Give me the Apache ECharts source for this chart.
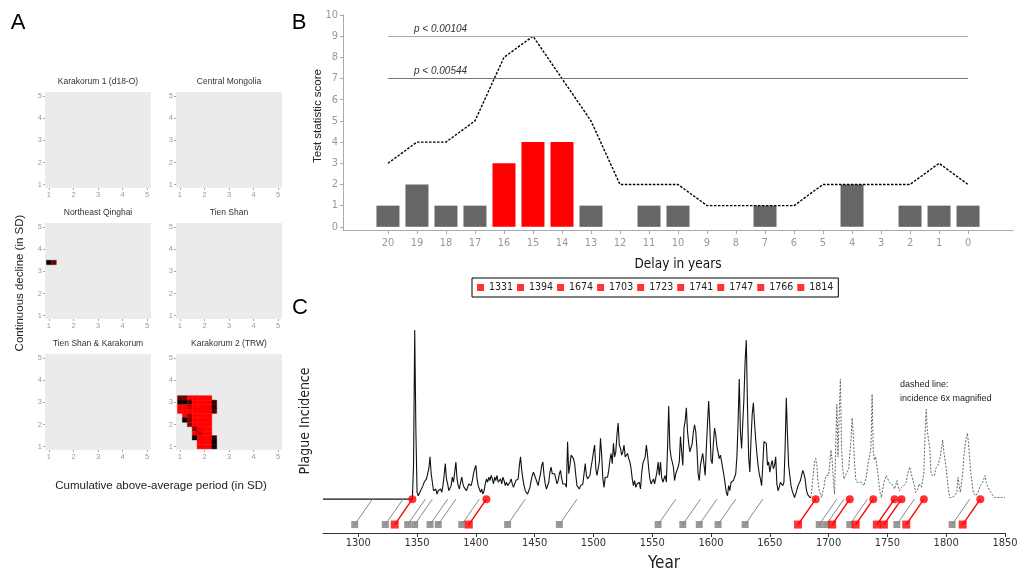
<!DOCTYPE html>
<html><head><meta charset="utf-8">
<script src="https://cdn.jsdelivr.net/npm/echarts@6/dist/echarts.min.js"></script>
<style>html,body{margin:0;padding:0;background:#fff}#c{width:1024px;height:572px}</style>
</head><body><div id="c"></div>
<script>
// ---------- Panel A data ----------
const panelTitles = ['Karakorum 1 (d18-O)', 'Central Mongolia', 'Northeast Qinghai', 'Tien Shan', 'Tien Shan & Karakorum', 'Karakorum 2 (TRW)'];
const axisTicksA = [1, 2, 3, 4, 5];
// [cumulative above-average (SD), continuous decline (SD), shade 0=black..1=red]
const qinghaiCells = [[1.0, 3.4, 0.0], [1.2, 3.4, 0.45]];
const karakorum2Cells = [
  [1.0,3.2,0.5],[1.2,3.2,0.5],[1.4,3.2,1],[1.6,3.2,1],[1.8,3.2,1],[2.0,3.2,1],[2.2,3.2,1],
  [1.0,3.0,0.05],[1.2,3.0,0.05],[1.4,3.0,0.4],[1.6,3.0,1],[1.8,3.0,1],[2.0,3.0,1],[2.2,3.0,1],[2.4,3.0,0.3],
  [1.0,2.8,1],[1.2,2.8,1],[1.4,2.8,0.8],[1.6,2.8,1],[1.8,2.8,1],[2.0,2.8,1],[2.2,2.8,1],[2.4,2.8,0.2],
  [1.0,2.6,1],[1.2,2.6,1],[1.4,2.6,1],[1.6,2.6,1],[1.8,2.6,1],[2.0,2.6,1],[2.2,2.6,1],[2.4,2.6,0.4],
  [1.2,2.4,1],[1.4,2.4,0.7],[1.6,2.4,1],[1.8,2.4,1],[2.0,2.4,1],[2.2,2.4,1],
  [1.2,2.2,0.0],[1.4,2.2,0.6],[1.6,2.2,1],[1.8,2.2,1],[2.0,2.2,1],[2.2,2.2,1],
  [1.4,2.0,0.6],[1.6,2.0,1],[1.8,2.0,1],[2.0,2.0,1],[2.2,2.0,1],
  [1.6,1.8,0.6],[1.8,1.8,1],[2.0,1.8,1],[2.2,1.8,1],
  [1.6,1.6,1],[1.8,1.6,0.8],[2.0,1.6,1],[2.2,1.6,1],
  [1.6,1.4,0.05],[1.8,1.4,1],[2.0,1.4,1],[2.2,1.4,1],[2.4,1.4,0.3],
  [1.8,1.2,1],[2.0,1.2,1],[2.2,1.2,1],[2.4,1.2,0.05],
  [1.8,1.0,1],[2.0,1.0,1],[2.2,1.0,1],[2.4,1.0,0.1]
];
const panelCells = [[], [], qinghaiCells, [], [], karakorum2Cells];
const CELL = 0.2;

// ---------- Panel B data ----------
const delays = [20,19,18,17,16,15,14,13,12,11,10,9,8,7,6,5,4,3,2,1,0];
const barScores = [1,2,1,1,3,4,4,1,0,1,1,0,0,1,0,0,2,0,1,1,1];
const lineScores = [3,4,4,5,8,9,7,5,2,2,2,1,1,1,1,2,2,2,2,3,2];
const significantDelays = [16,15,14];
const yTicksB = [0,1,2,3,4,5,6,7,8,9,10];
const thresholdValues = [9, 7];
const thresholdLabels = ['p < 0.00104', 'p < 0.00544'];

// ---------- Panel C data ----------
const yearTicks = [1300,1350,1400,1450,1500,1550,1600,1650,1700,1750,1800,1850];
const baselineStartYear = 1270;
const solidStartYear = 1346;
const solidValues = [
  0,20,100,40,4,2,3,5,4,8,        // 1346-1355
  10,9,12,15,18,25,15,16,5,4,     // 1356-1365
  6,3,5,4,6,4,8,14,21,12,         // 1366-1375
  9,5,4,8,13,10,16,22,12,8,       // 1376-1385
  6,10,13,9,7,8,5,6,9,10,         // 1386-1395
  8,11,15,18,20,12,8,7,4,6,       // 1396-1405
  3,5,9,12,10,13,11,14,12,9,      // 1406-1415
  13,11,14,10,9,12,9,13,11,8,     // 1416-1425
  10,8,7,10,12,9,7,9,11,10,       // 1426-1435
  12,20,25,17,12,8,5,4,3,4,       // 1436-1445
  7,11,14,16,14,12,10,8,12,15,    // 1446-1455
  20,22,14,9,6,5,10,16,19,15,     // 1456-1465
  16,15,12,9,11,15,17,12,9,10,    // 1466-1475
  9,7,34,15,20,26,25,24,21,14,    // 1476-1485
  8,7,6,8,7,9,15,21,14,12,        // 1486-1495
  11,14,19,23,28,32,18,14,15,22,  // 1496-1505
  36,26,12,7,13,14,13,17,23,27,   // 1506-1515
  21,33,25,28,38,45,32,30,26,28,  // 1516-1525
  32,25,24,27,24,22,18,12,8,11,   // 1526-1535
  7,9,8,10,6,15,21,22,25,32,      // 1536-1545
  26,18,12,9,10,12,9,10,16,22,    // 1546-1555
  14,22,13,10,9,14,10,30,55,30,   // 1556-1565
  25,26,19,11,15,17,19,22,37,28,  // 1566-1575
  20,42,46,54,40,33,28,29,33,40,  // 1576-1585
  44,40,30,15,11,20,24,27,26,14,  // 1586-1595
  30,45,58,42,23,21,33,42,38,31,  // 1596-1605
  30,24,26,22,18,14,9,4,2,8,      // 1606-1615
  5,10,9,11,12,15,25,45,71,40,    // 1616-1625
  30,45,60,82,94,55,25,16,35,50,  // 1626-1635
  57,45,35,27,20,15,12,8,20,34,   // 1636-1645
  33,33,20,22,16,20,23,18,20,25,  // 1646-1655
  9,5,7,10,11,8,10,30,60,38,      // 1656-1665
  20,14,8,5,3,1,3,4,8,9,          // 1666-1675
  11,14,17,15,12,6,3,2,1,1        // 1676-1685
];
const magnifiedStartYear = 1685;
const magnifiedValues = [
  1,8,15,22,24,20,10,5,4,1,       // 1685-1694
  4,7,12,14,15,14,15,29,23,12,    // 1695-1704
  3,30,56,25,50,71,30,18,12,11,   // 1705-1714
  15,16,18,19,35,48,38,22,12,10,  // 1715-1724
  9,10,9,10,9,8,9,13,18,23,       // 1725-1734
  26,31,62,28,23,25,20,15,8,3,    // 1735-1744
  1,6,10,12,14,13,11,10,9,9,      // 1745-1754
  8,6,8,11,8,5,6,7,7,8,           // 1755-1764
  9,10,14,17,19,16,13,13,8,4,     // 1765-1774
  3,6,9,8,7,6,15,38,53,40,        // 1775-1784
  35,31,16,14,14,14,18,19,20,21,  // 1785-1794
  25,30,35,28,23,18,11,5,1,1,     // 1795-1804
  1,1,2,3,4,13,8,4,3,15,          // 1805-1814
  25,31,36,39,33,23,15,10,4,3,    // 1815-1824
  2,2,4,6,8,9,10,12,14,10,        // 1825-1834
  8,7,5,4,3,2,1,1,1,1,            // 1835-1844
  1,1,1,1,1,1                     // 1845-1850
];
const greyEventYears = [1297,1323,1342,1348,1361,1368,1388,1427,1471,1555,1576,1590,1606,1629,1692,1698,1718,1758,1805];
const redEventYears = [1331,1394,1674,1703,1723,1741,1747,1766,1814];
const delayYears = 15;
const markerRow = -15;

// ---------- layout ----------
const FONT = 'Liberation Sans, Arial, sans-serif';
const VFONT = 'DejaVu Sans Condensed, DejaVu Sans, sans-serif';
const colLeft = [45, 176], rowTop = [92, 223, 354], gw = 106, gh = 96;
const grids = [], xAxes = [], yAxes = [], series = [], graphics = [];
const plain = v => String(v);

panelTitles.forEach((t, i) => {
  const left = colLeft[i % 2], top = rowTop[Math.floor(i / 2)];
  grids.push({left, top, width: gw, height: gh, show: true, backgroundColor: '#ebebeb', borderWidth: 0, outerBoundsMode: 'none', containLabel: false});
  xAxes.push({gridIndex: i, type: 'value', min: 0.84, max: 5.16,
    axisLine: {show: false, onZero: false}, splitLine: {show: false},
    axisTick: {show: true, customValues: axisTicksA, length: 2, lineStyle: {color: '#aaa'}},
    axisLabel: {customValues: axisTicksA, formatter: plain, color: '#9a9a9a', fontSize: 7.5, fontFamily: FONT, margin: 3}});
  yAxes.push({gridIndex: i, type: 'value', min: 0.85, max: 5.18,
    axisLine: {show: false, onZero: false}, splitLine: {show: false},
    axisTick: {show: true, customValues: axisTicksA, length: 2, lineStyle: {color: '#aaa'}},
    axisLabel: {customValues: axisTicksA, formatter: plain, color: '#9a9a9a', fontSize: 7.5, fontFamily: FONT, margin: 3}});
  series.push({type: 'custom', xAxisIndex: i, yAxisIndex: i, data: panelCells[i],
    renderItem: (params, api) => {
      const x = api.value(0), y = api.value(1);
      const a = api.coord([x - CELL / 2, y + CELL / 2]);
      const b = api.coord([x + CELL / 2, y - CELL / 2]);
      const c = api.visual('color');
      return {type: 'rect', shape: {x: a[0], y: a[1], width: b[0] - a[0], height: b[1] - a[1]},
        style: {fill: c, stroke: c, lineWidth: 0.4}};
    }});
  graphics.push({type: 'text', x: left + gw / 2, y: top - 10,
    style: {text: t, fontSize: 8.5, fontFamily: FONT, fill: '#333', align: 'center', verticalAlign: 'middle', textAlign: 'center', textVerticalAlign: 'middle'}});
});

// Panel B (grid 6)
grids.push({left: 343, right: 11, top: 15, bottom: 342, outerBoundsMode: 'none', containLabel: false});
xAxes.push({gridIndex: 6, type: 'value', inverse: true, min: -1.55, max: 21.55,
  axisLine: {onZero: false, lineStyle: {color: '#aaa'}}, splitLine: {show: false},
  axisTick: {customValues: delays, length: 4, lineStyle: {color: '#aaa'}},
  axisLabel: {customValues: delays, formatter: plain, color: '#999', fontSize: 11, fontFamily: VFONT, margin: 8},
  name: 'Delay in years', nameLocation: 'middle', nameGap: 27,
  nameTextStyle: {fontSize: 13.5, color: '#111', fontFamily: VFONT}});
yAxes.push({gridIndex: 6, type: 'value', min: -0.15, max: 10,
  axisLine: {show: true, onZero: false, lineStyle: {color: '#aaa'}}, splitLine: {show: false},
  axisTick: {show: true, customValues: yTicksB, length: 3, lineStyle: {color: '#aaa'}},
  axisLabel: {customValues: yTicksB, formatter: plain, color: '#999', fontSize: 11, fontFamily: VFONT, margin: 5}});
series.push({type: 'bar', xAxisIndex: 6, yAxisIndex: 6, barWidth: 23,
  data: delays.map((d, i) => [d, barScores[i]]),
  itemStyle: {color: p => significantDelays.includes(p.value[0]) ? '#ff0000' : '#666666'}});
series.push({type: 'line', xAxisIndex: 6, yAxisIndex: 6, symbol: 'none', z: 4,
  data: delays.map((d, i) => [d, lineScores[i]]),
  lineStyle: {color: '#000', width: 1.4, type: [2.5, 1.5]},
  markLine: {silent: true, symbol: 'none', animation: false,
    lineStyle: {type: 'solid', width: 1},
    label: {position: 'insideStartTop', distance: [26, 2], fontStyle: 'italic', fontSize: 10, color: '#333', fontFamily: FONT},
    data: thresholdValues.map((t, i) => [
      {coord: [delays[0], t], lineStyle: {color: i === 0 ? '#aaa' : '#777'}, label: {formatter: thresholdLabels[i]}},
      {coord: [delays[delays.length - 1], t]}])}});
redEventYears.forEach(y => series.push({name: String(y), type: 'scatter', xAxisIndex: 6, yAxisIndex: 6, data: [], itemStyle: {color: '#ff0000'}}));

// Panel C (grid 7)
grids.push({left: 323, right: 19, top: 330, bottom: 39, outerBoundsMode: 'none', containLabel: false});
xAxes.push({gridIndex: 7, type: 'value', min: 1270, max: 1850,
  axisLine: {onZero: false, lineStyle: {color: '#333'}}, splitLine: {show: false},
  axisTick: {customValues: yearTicks, length: 4, lineStyle: {color: '#333'}},
  axisLabel: {customValues: yearTicks, formatter: plain, color: '#333', fontSize: 11, fontFamily: VFONT, margin: 5},
  name: 'Year', nameLocation: 'middle', nameGap: 22,
  nameTextStyle: {fontSize: 17, color: '#222', fontFamily: VFONT}});
yAxes.push({gridIndex: 7, type: 'value', min: -20, max: 100,
  axisLine: {show: false, onZero: false}, axisTick: {show: false}, axisLabel: {show: false}, splitLine: {show: false}});
const solidData = [[baselineStartYear, 0]].concat(solidValues.map((v, i) => [solidStartYear + i, v]));
const magnifiedData = magnifiedValues.map((v, i) => [magnifiedStartYear + i, v]);
series.push({type: 'line', xAxisIndex: 7, yAxisIndex: 7, symbol: 'none', data: magnifiedData,
  lineStyle: {color: '#666', width: 1, type: [2, 1.5]}, z: 2});
series.push({type: 'line', xAxisIndex: 7, yAxisIndex: 7, symbol: 'none', data: solidData,
  lineStyle: {color: '#111', width: 1.1}, z: 3});
series.push({type: 'lines', coordinateSystem: 'cartesian2d', xAxisIndex: 7, yAxisIndex: 7, z: 4,
  data: greyEventYears.map(y => ({coords: [[y, markerRow], [y + delayYears, 0]]})),
  lineStyle: {color: '#8a8a8a', width: 1, opacity: 1}});
series.push({type: 'lines', coordinateSystem: 'cartesian2d', xAxisIndex: 7, yAxisIndex: 7, z: 5,
  data: redEventYears.map(y => ({coords: [[y, markerRow], [y + delayYears, 0]]})),
  lineStyle: {color: '#ff0000', width: 1.4, opacity: 1}});
series.push({type: 'scatter', xAxisIndex: 7, yAxisIndex: 7, symbol: 'rect', symbolSize: 7, z: 6,
  data: greyEventYears.map(y => [y, markerRow]), itemStyle: {color: '#808080'}});
series.push({type: 'scatter', xAxisIndex: 7, yAxisIndex: 7, symbol: 'rect', symbolSize: 8, z: 7,
  data: redEventYears.map(y => [y, markerRow]), itemStyle: {color: '#ff0000'}});
series.push({type: 'scatter', xAxisIndex: 7, yAxisIndex: 7, symbol: 'circle', symbolSize: 8, z: 7,
  data: redEventYears.map(y => [y + delayYears, 0]), itemStyle: {color: '#ff0000'}});

// texts
const txt = (text, x, y, size, family, fill, rot, extra) => Object.assign({type: 'text', x, y, rotation: rot || 0,
  style: Object.assign({text, fontSize: size, fontFamily: family, fill, align: 'center', verticalAlign: 'middle', textAlign: 'center', textVerticalAlign: 'middle'}, extra || {})});
graphics.push(txt('A', 18, 23, 22, FONT, '#000'));
graphics.push(txt('B', 299, 23, 22, FONT, '#000'));
graphics.push(txt('C', 300, 308, 22, FONT, '#000'));
graphics.push(txt('Continuous decline (in SD)', 20, 283, 11.5, FONT, '#222', Math.PI / 2));
graphics.push(txt('Cumulative above-average period (in SD)', 161, 486, 11.5, FONT, '#222'));
graphics.push(txt('Test statistic score', 318, 116, 11.5, FONT, '#222', Math.PI / 2));
graphics.push(txt('Plague Incidence', 305, 421, 14, VFONT, '#222', Math.PI / 2));
graphics.push({type: 'text', x: 900, y: 378, style: {text: 'dashed line:\nincidence 6x magnified', fontSize: 9, lineHeight: 14, fontFamily: FONT, fill: '#222'}});

const chart = echarts.init(document.getElementById('c'), null, {renderer: 'canvas'});
chart.setOption({
  animation: false,
  backgroundColor: '#fff',
  textStyle: {fontFamily: FONT},
  grid: grids, xAxis: xAxes, yAxis: yAxes, series,
  visualMap: {type: 'continuous', show: false, min: 0, max: 1, dimension: 2, seriesIndex: [0,1,2,3,4,5],
    inRange: {color: ['#000000', '#6e0000', '#ff0000']}},
  legend: {left: 472, top: 278, orient: 'horizontal', data: redEventYears.map(String), icon: 'rect',
    itemWidth: 7, itemHeight: 7, itemGap: 4, padding: [4, 5, 4, 5], borderColor: '#000', borderWidth: 1,
    selectedMode: false, textStyle: {fontSize: 10.5, color: '#222', fontFamily: VFONT}},
  graphic: graphics
});
</script></body></html>
